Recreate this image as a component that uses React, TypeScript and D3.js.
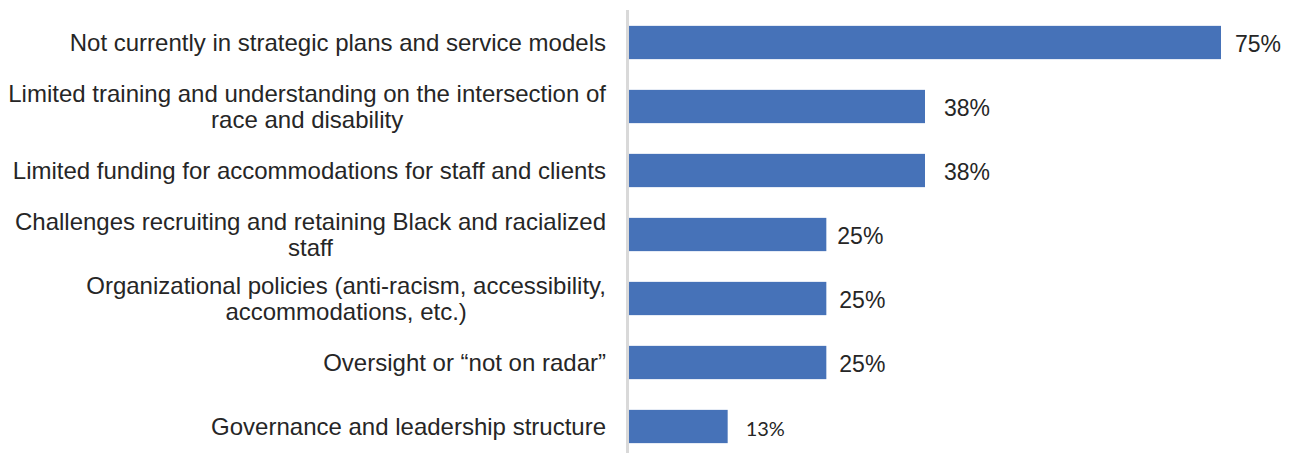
import React, { useEffect, useRef } from "react";
import * as d3 from "d3";

const categories: string[][] = [
  ["Not currently in strategic plans and service models"],
  ["Limited training and understanding on the intersection of", "race and disability"],
  ["Limited funding for accommodations for staff and clients"],
  ["Challenges recruiting and retaining Black and racialized", "staff"],
  ["Organizational policies (anti-racism, accessibility,", "accommodations, etc.)"],
  ["Oversight or \u201cnot on radar\u201d"],
  ["Governance and leadership structure"],
];
const values: number[] = [75, 37.5, 37.5, 25, 25, 25, 12.5];
const valueLabels: string[] = ["75%", "38%", "38%", "25%", "25%", "25%", "13%"];
const labelGap: number[] = [14, 19, 19, 11, 13, 13, 18];

const W = 1296;
const H = 453;

export default function App() {
  const ref = useRef<SVGSVGElement | null>(null);

  useEffect(() => {
    const svg = d3.select(ref.current);
    svg.selectAll("*").remove();

    const ids = categories.map((_, i) => String(i));
    const x = d3.scaleLinear().domain([0, 75]).range([629, 1221]);
    const y = d3
      .scaleBand<string>()
      .domain(ids)
      .range([10.5, 458.5])
      .paddingInner(0.48)
      .paddingOuter(0.24);

    // bars
    svg
      .append("g")
      .selectAll("rect")
      .data(values)
      .join("rect")
      .attr("x", x(0))
      .attr("y", (_, i) => y(ids[i])!)
      .attr("width", (d) => x(d) - x(0))
      .attr("height", y.bandwidth())
      .attr("fill", "#4672B8");

    // axis line
    svg
      .append("line")
      .attr("x1", 627.5)
      .attr("x2", 627.5)
      .attr("y1", 10)
      .attr("y2", H)
      .attr("stroke", "#d9d9d9")
      .attr("stroke-width", 3);

    // value labels
    svg
      .append("g")
      .selectAll("text")
      .data(values)
      .join("text")
      .attr("x", (d, i) => x(d) + labelGap[i])
      .attr("y", (_, i) => y(ids[i])! + y.bandwidth() / 2 + 1)
      .attr("dominant-baseline", "central")
      .attr("font-family", (_, i) => (i === 6 ? "Lato, 'Open Sans', sans-serif" : "'Liberation Sans', Arial, sans-serif"))
      .attr("font-size", (_, i) => (i === 6 ? 20 : 23))
      .attr("fill", "#262626")
      .text((_, i) => valueLabels[i]);

    // category labels
    const lineH = 26;
    const rightX = 606;
    const g = svg.append("g");
    categories.forEach((lines, i) => {
      const cy = y(ids[i])! + y.bandwidth() / 2 - 1;
      const t = g
        .append("text")
        .attr("font-family", "'Liberation Sans', Arial, sans-serif")
        .attr("font-size", 24)
        .attr("fill", "#262626")
        .attr("dominant-baseline", "central");
      const spans = lines.map((ln, j) =>
        t
          .append("tspan")
          .attr("x", 0)
          .attr("y", cy + (j - (lines.length - 1) / 2) * lineH)
          .text(ln)
      );
      const widths = spans.map((s) => (s.node() as SVGTSpanElement).getComputedTextLength());
      const maxW = Math.max(...widths);
      const center = rightX - maxW / 2;
      spans.forEach((s) => s.attr("x", center).attr("text-anchor", "middle"));
    });
  }, []);

  return (
    <svg
      ref={ref}
      width={W}
      height={H}
      style={{ position: "absolute", left: 0, top: 0, background: "#fff" }}
    />
  );
}
